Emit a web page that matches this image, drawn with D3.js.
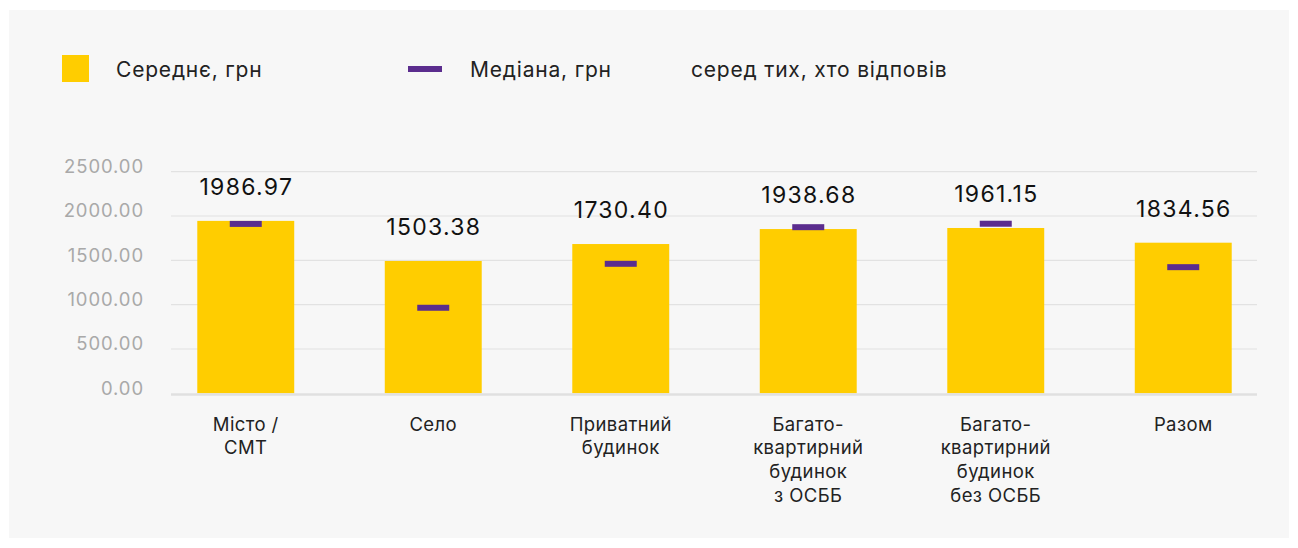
<!DOCTYPE html>
<html>
<head>
<meta charset="utf-8">
<script src="https://cdn.jsdelivr.net/npm/d3@7"></script>
<style>
  body { margin: 0; background: #ffffff; }
  svg { display: block; font-family: Inter, "Noto Sans", sans-serif; }
</style>
</head>
<body>
<svg id="chart" width="1298" height="548"></svg>
<script>
// categories (multi-line labels)
var categories = [
  ["Місто /", "СМТ"],
  ["Село"],
  ["Приватний", "будинок"],
  ["Багато-", "квартирний", "будинок", "з ОСББ"],
  ["Багато-", "квартирний", "будинок", "без ОСББ"],
  ["Разом"]
];
// bar heights as drawn in the picture
var meanBars = [1945, 1493, 1684, 1853, 1865, 1699];
// value labels printed above the bars
var meanLabels = ["1986.97", "1503.38", "1730.40", "1938.68", "1961.15", "1834.56"];
var medians = [1911, 965, 1461, 1874, 1913, 1423];
var yTicks = [0, 500, 1000, 1500, 2000, 2500];
var legendItems = ["Середнє, грн", "Медіана, грн", "серед тих, хто відповів"];

var yellow = "#ffcd00", purple = "#5b2d8e";

var svg = d3.select("#chart");

// panel background
svg.append("rect")
  .attr("x", 9).attr("y", 10)
  .attr("width", 1280).attr("height", 528)
  .attr("fill", "#f7f7f7");

var x = d3.scaleBand()
  .domain(d3.range(categories.length))
  .range([152, 1277])
  .paddingInner(0.483)
  .paddingOuter(0.2415);

var y = d3.scaleLinear().domain([0, 2500]).range([393.3, 171.7]);

var gridLeft = 171, gridRight = 1257;

// gridlines
svg.append("g").selectAll("line")
  .data(yTicks.slice(1))
  .join("line")
  .attr("x1", gridLeft).attr("x2", gridRight)
  .attr("y1", d => y(d)).attr("y2", d => y(d))
  .attr("stroke", "#e2e2e2").attr("stroke-width", 1.2);

// tick labels
svg.append("g").selectAll("text")
  .data(yTicks)
  .join("text")
  .attr("x", 144)
  .attr("y", d => y(d) - 5)
  .attr("dy", "0.35em")
  .attr("text-anchor", "end")
  .attr("fill", "#a9a9a9")
  .style("font-size", "18.5px")
  .style("letter-spacing", "0.9px")
  .text(d => d.toFixed(2));

// bars
svg.append("g").selectAll("rect")
  .data(meanBars)
  .join("rect")
  .attr("x", (d, i) => x(i))
  .attr("width", x.bandwidth())
  .attr("y", d => y(d))
  .attr("height", d => y(0) - y(d))
  .attr("fill", yellow);

// baseline
svg.append("line")
  .attr("x1", gridLeft).attr("x2", gridRight)
  .attr("y1", y(0) + 1.2).attr("y2", y(0) + 1.2)
  .attr("stroke", "#e0e0e0").attr("stroke-width", 2.5);

// median marks
svg.append("g").selectAll("rect")
  .data(medians)
  .join("rect")
  .attr("x", (d, i) => x(i) + x.bandwidth() / 2 - 16)
  .attr("width", 32)
  .attr("y", d => y(d) - 3)
  .attr("height", 6)
  .attr("fill", purple);

// value labels
svg.append("g").selectAll("text")
  .data(meanBars)
  .join("text")
  .attr("x", (d, i) => x(i) + x.bandwidth() / 2 + 0.6)
  .attr("y", d => y(d) - 26)
  .attr("text-anchor", "middle")
  .attr("fill", "#111111")
  .style("font-size", "23px")
  .style("letter-spacing", "1.3px")
  .text((d, i) => meanLabels[i]);

// category labels
var cat = svg.append("g").selectAll("text")
  .data(categories)
  .join("text")
  .attr("x", (d, i) => x(i) + x.bandwidth() / 2)
  .attr("y", 430.7)
  .attr("text-anchor", "middle")
  .attr("fill", "#222222")
  .style("font-size", "18.5px")
  .style("letter-spacing", "0.4px");
cat.selectAll("tspan")
  .data(d => d)
  .join("tspan")
  .attr("x", function() { return this.parentNode.getAttribute("x"); })
  .attr("dy", (d, j) => j === 0 ? 0 : 23.7)
  .text(d => d);

// legend
var lg = svg.append("g");
lg.append("rect")
  .attr("x", 62).attr("y", 55).attr("width", 27).attr("height", 27)
  .attr("fill", yellow);
lg.append("rect")
  .attr("x", 408).attr("y", 66).attr("width", 34).attr("height", 6)
  .attr("fill", purple);
lg.selectAll("text.lgt")
  .data(legendItems)
  .join("text")
  .attr("class", "lgt")
  .attr("x", (d, i) => [116, 470, 691][i])
  .attr("y", 77)
  .attr("fill", "#222222")
  .style("font-size", "21px")
  .style("letter-spacing", "0.8px")
  .text(d => d);
</script>
</body>
</html>
